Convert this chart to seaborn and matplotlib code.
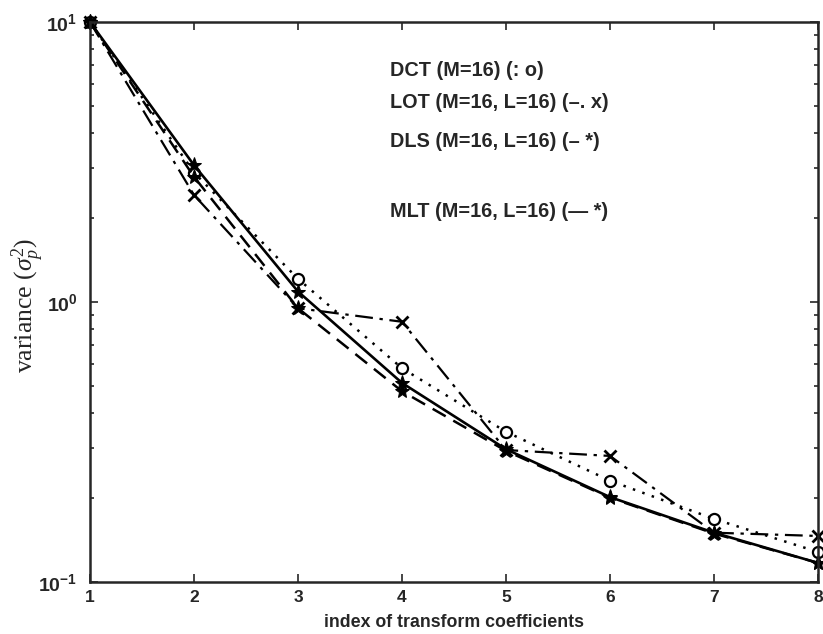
import matplotlib
matplotlib.use("Agg")
import matplotlib.pyplot as plt
import seaborn as sns
import numpy as np
import pandas as pd

idx = [1, 2, 3, 4, 5, 6, 7, 8]
dct = [10.0, 2.90, 1.21, 0.58, 0.344, 0.230, 0.168, 0.128]
lot = [10.0, 2.41, 0.95, 0.85, 0.296, 0.282, 0.150, 0.146]
dls = [10.0, 3.08, 1.09, 0.514, 0.298, 0.201, 0.150, 0.117]
mlt = [10.0, 2.80, 0.95, 0.48, 0.294, 0.200, 0.149, 0.117]

labels = ["DCT (M=16) (: o)", "LOT (M=16, L=16) (\u2013. x)",
          "DLS (M=16, L=16) (\u2013 *)", "MLT (M=16, L=16) (\u2014 *)"]

sns.set_style("ticks")
plt.rcParams['font.family'] = ['Liberation Sans', 'DejaVu Sans']
plt.rcParams['mathtext.fontset'] = 'custom'
plt.rcParams['mathtext.bf'] = 'Liberation Sans:bold'
plt.rcParams['mathtext.rm'] = 'Liberation Serif'
plt.rcParams['mathtext.it'] = 'Liberation Serif:italic'

fig = plt.figure(figsize=(8.23, 6.34), dpi=100)
ax = fig.add_axes([90/823, 1-582/634, (818-90)/823, (582-22)/634])

df = pd.DataFrame({"idx": idx, "DCT": dct, "LOT": lot, "DLS": dls, "MLT": mlt})

common = dict(ax=ax, color="black", clip_on=False)
sns.lineplot(data=df, x="idx", y="DCT", linestyle=(0, (1, 3)),
             linewidth=1.8, marker="o", markersize=8, markerfacecolor="white",
             markeredgecolor="black", markeredgewidth=1.6, **common)
sns.lineplot(data=df, x="idx", y="LOT", linestyle=(0, (8, 3, 1.5, 3)),
             linewidth=1.6, marker="x", markersize=9, markeredgewidth=2.0,
             markeredgecolor="black", **common)
sns.lineplot(data=df, x="idx", y="MLT", linestyle=(0, (6, 3.5)),
             linewidth=1.8, marker="*", markersize=11, markeredgecolor="black", **common)
sns.lineplot(data=df, x="idx", y="DLS", linestyle="-",
             linewidth=1.9, marker="*", markersize=11, markeredgecolor="black", **common)

ax.set_yscale("log")
ax.set_xlim(1, 8)
ax.set_ylim(0.1, 10)
ax.set_xticks(idx)
ax.set_xticklabels([str(i) for i in idx], fontsize=12.5, fontweight="bold")
ax.set_yticks([0.1, 1, 10])
ax.set_yticklabels([r"$\mathbf{10^{-1}}$", r"$\mathbf{10^{0}}$", r"$\mathbf{10^{1}}$"], fontsize=14)
ax.tick_params(which="both", direction="in", top=True, right=True, width=1.2)
ax.tick_params(which="major", length=6)
ax.tick_params(which="minor", length=3)
ax.tick_params(axis="y", which="major", pad=9)
ax.tick_params(axis="x", which="major", pad=6)
for s in ax.spines.values():
    s.set_linewidth(1.8)
    s.set_visible(True)

ax.set_xlabel("index of transform coefficients", fontsize=12.8, fontweight="bold", labelpad=6)
ax.set_ylabel(r"variance ($\sigma_p^2$)", fontsize=18.5, family=["Liberation Serif", "DejaVu Serif"])
ax.yaxis.set_label_coords(-0.060, (582-305)/560)

ypos = [70, 102, 142, 212]
for lab, yp in zip(labels, ypos):
    fig.text(390/823, 1-yp/634, lab, fontsize=14.3, fontweight="bold",
             ha="left", va="center")

fig.savefig("out.png", dpi=100)
